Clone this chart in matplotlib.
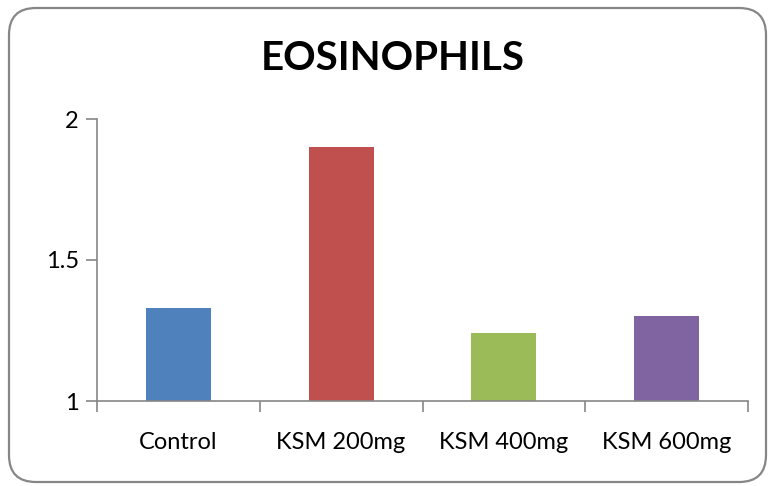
import matplotlib
matplotlib.use("Agg")
import matplotlib.pyplot as plt
from matplotlib.patches import FancyBboxPatch

categories = ["Control", "KSM 200mg", "KSM 400mg", "KSM 600mg"]
values = [1.33, 1.90, 1.24, 1.30]
colors = ["#4F81BD", "#C0504D", "#9BBB59", "#8064A2"]
yticks = [1, 1.5, 2]
ytick_labels = ["1", "1.5", "2"]
title = "EOSINOPHILS"

plt.rcParams["font.family"] = ["Lato", "DejaVu Sans"]

fig = plt.figure(figsize=(7.68, 4.86), dpi=100)
fig.patch.set_facecolor("white")

# rounded chart-area border
frame = FancyBboxPatch((9 / 768, 4 / 486), 757 / 768, 474 / 486,
                       boxstyle="round,pad=0,rounding_size=0.035",
                       transform=fig.transFigure, facecolor="white",
                       edgecolor="#868686", linewidth=1.6, zorder=-5,
                       mutation_aspect=768 / 486)
fig.patches.append(frame)

ax = fig.add_axes([97 / 768, 85 / 486, 651 / 768, 282 / 486])
ax.set_facecolor("none")
x = list(range(len(categories)))
ax.bar(x, values, width=0.4, color=colors, bottom=0)
ax.set_xlim(-0.5, len(categories) - 0.5)
ax.set_ylim(1, 2)
ax.set_yticks(yticks)
ax.set_yticklabels(ytick_labels)
ax.set_xticks(x)
ax.set_xticklabels(categories)
ax.set_xticks([i - 0.5 for i in range(len(categories) + 1)], minor=True)
ax.tick_params(axis="x", which="major", length=0, pad=22, labelsize=17)
ax.tick_params(axis="x", which="minor", length=8, width=1.2, color="#868686", direction="out")
ax.tick_params(axis="y", length=8, width=1.2, color="#868686", direction="out", pad=5, labelsize=17)

for side in ["top", "right"]:
    ax.spines[side].set_visible(False)
for side in ["left", "bottom"]:
    ax.spines[side].set_color("#868686")
    ax.spines[side].set_linewidth(1.2)

fig.text(393 / 768, 1 - 59 / 486, title, ha="center", va="center",
         fontsize=29, fontweight="bold", color="black")

fig.savefig("out.png", dpi=100)
